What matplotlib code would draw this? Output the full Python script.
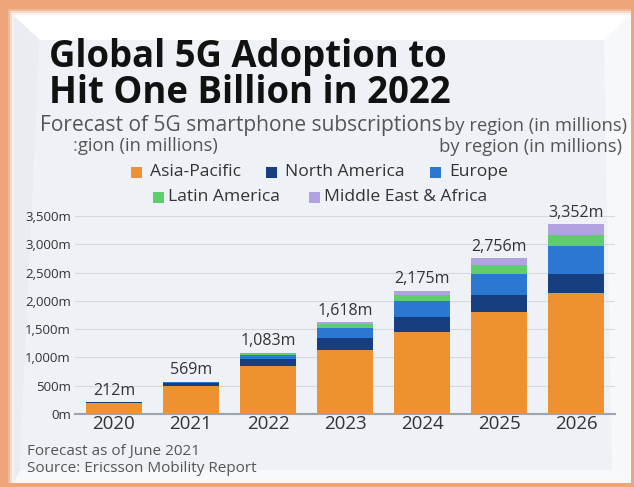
import matplotlib
matplotlib.use("Agg")
import matplotlib.pyplot as plt
from matplotlib.patches import Polygon, Rectangle
import numpy as np

years = ["2020", "2021", "2022", "2023", "2024", "2025", "2026"]
totals = [212, 569, 1083, 1618, 2175, 2756, 3352]
asia_pacific = [195, 488, 842, 1137, 1455, 1796, 2139]
north_america = [12, 60, 130, 212, 260, 301, 336]
europe = [3, 16, 76, 171, 276, 384, 488]
latin_america = [1, 3, 25, 77, 118, 159, 207]
middle_east_africa = [1, 2, 10, 21, 66, 116, 182]

series_names = ["Asia-Pacific", "North America", "Europe", "Latin America", "Middle East & Africa"]
series_values = [asia_pacific, north_america, europe, latin_america, middle_east_africa]
series_colors = ["#ee9130", "#173e7e", "#2b78d3", "#5fcd6b", "#b3a2e2"]
yticks = [0, 500, 1000, 1500, 2000, 2500, 3000, 3500]
ytick_labels = ["0m", "500m", "1,000m", "1,500m", "2,000m", "2,500m", "3,000m", "3,500m"]

W, H = 634, 487
FONT = ["Open Sans", "DejaVu Sans"]
plt.rcParams["font.family"] = FONT

fig = plt.figure(figsize=(W / 100, H / 100), dpi=100)
fig.patch.set_facecolor("#eef2f6")

# decorative frame (pixel coordinates)
bg = fig.add_axes([0, 0, 1, 1], zorder=-10)
bg.set_xlim(0, W)
bg.set_ylim(H, 0)
bg.axis("off")
bg.add_patch(Rectangle((0, 0), W, H, color="#eea579"))
for i, a in enumerate([0.25, 0.5, 0.75, 1.0]):
    bg.add_patch(Rectangle((8 + i * 2, 9 + i * 2), W - 11 - i * 2, H - 9 - i * 2 - 4, color="#f9fafb", alpha=a, lw=0))
bg.add_patch(Rectangle((14, 16), W - 18, H - 20, color="#fbfcfd", lw=0))
# bevels
bg.add_patch(Polygon([(14, 16), (630, 16), (604, 40), (40, 40)], closed=True, color="#ffffff", lw=0))
bg.add_patch(Polygon([(630, 16), (630, 483), (612, 470), (604, 40)], closed=True, color="#f6f8fa", lw=0))
bg.add_patch(Polygon([(14, 483), (630, 483), (612, 470), (20, 470)], closed=True, color="#f8f9fb", lw=0))
bg.add_patch(Polygon([(14, 16), (40, 40), (20, 470), (14, 483)], closed=True, color="#e9edf1", lw=0))
bg.add_patch(Polygon([(40, 40), (604, 40), (612, 470), (20, 470)], closed=True, color="#eef2f6", lw=0))

# main axes
ax = fig.add_axes([75 / W, 1 - 414 / H, 540 / W, 198 / H])
ax.set_facecolor("none")
x = np.arange(len(years))
bottom = np.zeros(len(years))
for name, vals, col in zip(series_names, series_values, series_colors):
    ax.bar(x, vals, 0.72, bottom=bottom, color=col, label=name, zorder=3)
    bottom += np.array(vals)

for xi, t in zip(x, totals):
    ax.annotate(f"{t:,}m", (xi, t), xytext=(0, 2.5), textcoords="offset points",
                ha="center", va="bottom", fontsize=11.5, color="#333333", zorder=5,
                annotation_clip=False)

ax.set_xlim(-0.506, 6.506)
ax.set_ylim(0, 3500)
ax.set_yticks(yticks)
ax.set_yticklabels(ytick_labels, fontsize=9.5, color="#333333")
ax.set_xticks(x)
ax.set_xticklabels(years, fontsize=13.5, color="#333333")
ax.tick_params(axis="both", length=0)
ax.tick_params(axis="y", pad=3)
ax.tick_params(axis="x", pad=1)
ax.grid(axis="y", color="#d6dade", lw=0.8, zorder=0)
for s in ["top", "right", "left"]:
    ax.spines[s].set_visible(False)
ax.spines["bottom"].set_color("#9ea4ab")
ax.spines["bottom"].set_linewidth(1.5)

def px(xp, yp):
    return xp / W, 1 - yp / H

fig.text(*px(49, 57), "Global 5G Adoption to", fontsize=26.3, fontweight="bold", color="#111111", va="center", ha="left")
fig.text(*px(49, 93), "Hit One Billion in 2022", fontsize=26.3, fontweight="bold", color="#111111", va="center", ha="left")
fig.text(*px(40, 125), "Forecast of 5G smartphone subscriptions", fontsize=15.1, color="#555555", va="center", ha="left")
fig.text(*px(627, 126), "by region (in millions)", fontsize=13.2, color="#555555", va="center", ha="right")
fig.text(*px(78, 146), "gion (in millions)", fontsize=13.2, color="#555555", va="center", ha="left")
fig.text(*px(622, 147), "by region (in millions)", fontsize=13.2, color="#555555", va="center", ha="right")
fig.text(*px(73, 146), ":", fontsize=13.2, color="#777777", va="center", ha="left")

# legend
leg_items = [(131, 172, 150, 0), (266, 172, 285, 1), (430, 172, 449, 2), (153, 197, 168, 3), (309, 197, 324, 4)]
for lx, ly, tx, i in leg_items:
    bg.add_patch(Rectangle((lx, ly - 5.5), 11, 11, color=series_colors[i], lw=0))
    fig.text(*px(tx, ly), series_names[i], fontsize=12.6, color="#333333", va="center", ha="left")

fig.text(*px(27, 451), "Forecast as of June 2021", fontsize=11, color="#555555", va="center", ha="left")
fig.text(*px(27, 469), "Source: Ericsson Mobility Report", fontsize=11, color="#555555", va="center", ha="left")

fig.savefig("out.png", dpi=100, facecolor=fig.get_facecolor())
